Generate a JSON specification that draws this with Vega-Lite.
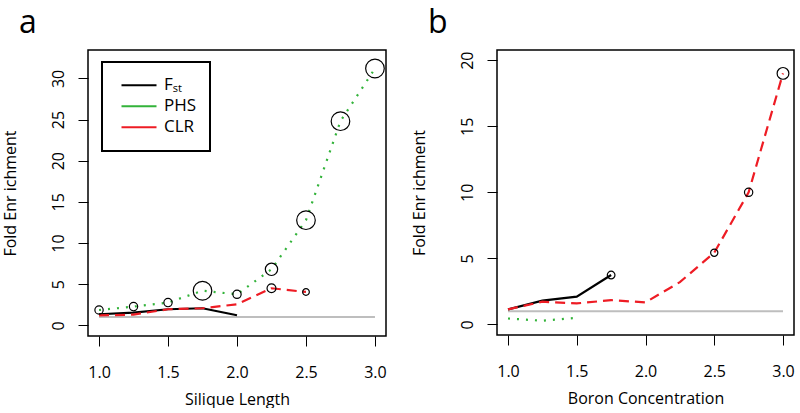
{
  "$schema": "https://vega.github.io/schema/vega-lite/v6.json",
  "background": "white",
  "padding": {"left": 1, "top": 6, "right": 0, "bottom": 0},
  "spacing": 22,
  "datasets": {
    "a": [
      {"series": "base", "x": 1.0, "y": 1.0},
      {"series": "base", "x": 3.0, "y": 1.0},
      {"series": "FST", "x": 1.0, "y": 1.34},
      {"series": "FST", "x": 1.25, "y": 1.55},
      {"series": "FST", "x": 1.5, "y": 1.95},
      {"series": "FST", "x": 1.75, "y": 2.07},
      {"series": "FST", "x": 2.0, "y": 1.22},
      {"series": "PHS", "x": 1.0, "y": 1.86, "sig": 0.2},
      {"series": "PHS", "x": 1.25, "y": 2.27, "sig": 0.2},
      {"series": "PHS", "x": 1.5, "y": 2.76, "sig": 0.2},
      {"series": "PHS", "x": 1.75, "y": 4.2, "sig": 1.0},
      {"series": "PHS", "x": 2.0, "y": 3.77, "sig": 0.2},
      {"series": "PHS", "x": 2.25, "y": 6.8, "sig": 0.44},
      {"series": "PHS", "x": 2.5, "y": 12.77, "sig": 1.0},
      {"series": "PHS", "x": 2.75, "y": 24.8, "sig": 1.0},
      {"series": "PHS", "x": 3.0, "y": 31.2, "sig": 1.0},
      {"series": "CLR", "x": 1.0, "y": 1.2},
      {"series": "CLR", "x": 1.25, "y": 1.3},
      {"series": "CLR", "x": 1.5, "y": 1.95},
      {"series": "CLR", "x": 1.75, "y": 2.07},
      {"series": "CLR", "x": 2.0, "y": 2.55},
      {"series": "CLR", "x": 2.25, "y": 4.5, "sig": 0.23},
      {"series": "CLR", "x": 2.5, "y": 4.05, "sig": 0.13}
    ],
    "b": [
      {"series": "base", "x": 1.0, "y": 1.0},
      {"series": "base", "x": 3.0, "y": 1.0},
      {"series": "FST", "x": 1.0, "y": 1.14},
      {"series": "FST", "x": 1.25, "y": 1.8},
      {"series": "FST", "x": 1.5, "y": 2.1},
      {"series": "FST", "x": 1.75, "y": 3.74, "sig": 0.17},
      {"series": "PHS", "x": 1.0, "y": 0.45},
      {"series": "PHS", "x": 1.25, "y": 0.28},
      {"series": "PHS", "x": 1.5, "y": 0.5},
      {"series": "CLR", "x": 1.0, "y": 1.14},
      {"series": "CLR", "x": 1.25, "y": 1.72},
      {"series": "CLR", "x": 1.5, "y": 1.59},
      {"series": "CLR", "x": 1.75, "y": 1.84},
      {"series": "CLR", "x": 2.0, "y": 1.67},
      {"series": "CLR", "x": 2.25, "y": 3.2},
      {"series": "CLR", "x": 2.5, "y": 5.43, "sig": 0.15},
      {"series": "CLR", "x": 2.75, "y": 10.0, "sig": 0.2},
      {"series": "CLR", "x": 3.0, "y": 19.0, "sig": 0.4}
    ]
  },
  "resolve": {"scale": {"color": "independent", "size": "independent"}, "legend": {"color": "independent", "size": "independent"}},
  "hconcat": [
    {
      "width": 298,
      "height": 286,
      "title": {"text": "a", "anchor": "start", "frame": "group", "dx": -69, "offset": -15, "baseline": "alphabetic", "fontSize": 32, "font": "Open Sans", "fontWeight": "normal", "color": "black"},
      "data": {"name": "a"},
      "layer": [
        {
          "transform": [{"filter": "datum.series == 'base'"}],
          "mark": {"type": "line", "color": "#bebebe", "strokeWidth": 2},
          "encoding": {
            "x": {"field": "x", "type": "quantitative", "scale": {"domain": [0.92, 3.08], "nice": false, "zero": false}, "axis": {"title": "Silique Length", "values": [1.0, 1.5, 2.0, 2.5, 3.0], "format": ".1f"}},
            "y": {"field": "y", "type": "quantitative", "scale": {"domain": [-1.3, 33.45], "nice": false, "zero": false}, "axis": {"title": "Fold Enr ichment", "values": [0, 5, 10, 15, 20, 25, 30]}}
          }
        },
        {
          "transform": [{"filter": "datum.series == 'FST'"}],
          "mark": {"type": "line", "strokeWidth": 2.2, "strokeCap": "butt"},
          "encoding": {
            "x": {"field": "x", "type": "quantitative"},
            "y": {"field": "y", "type": "quantitative"},
            "color": {"field": "series", "type": "nominal", "scale": {"domain": ["FST", "PHS", "CLR"], "range": ["#000000", "#33b33a", "#ee1c24"]},
              "legend": {"orient": "none", "legendX": 14, "legendY": 12, "title": null, "symbolType": "stroke", "symbolSize": 1225, "symbolStrokeWidth": 2.2, "symbolOffset": 5, "clipHeight": 20.5, "labelFontSize": 17, "labelFont": "Open Sans", "labelColor": "black", "padding": 13, "strokeColor": "black", "fillColor": "white", "rowPadding": 0, "labelOffset": 6, "labelExpr": "datum.label == 'FST' ? 'F\u209b\u209c\u00a0\u00a0' : datum.label + '\u00a0\u00a0'"}}
          }
        },
        {
          "transform": [{"filter": "datum.series == 'PHS'"}],
          "mark": {"type": "line", "strokeWidth": 2.2, "strokeCap": "butt", "strokeDash": [2, 7]},
          "encoding": {
            "x": {"field": "x", "type": "quantitative"},
            "y": {"field": "y", "type": "quantitative"},
            "color": {"field": "series", "type": "nominal"}
          }
        },
        {
          "transform": [{"filter": "datum.series == 'CLR'"}],
          "mark": {"type": "line", "strokeWidth": 2.2, "strokeCap": "butt", "strokeDash": [10, 6]},
          "encoding": {
            "x": {"field": "x", "type": "quantitative"},
            "y": {"field": "y", "type": "quantitative"},
            "color": {"field": "series", "type": "nominal"}
          }
        },
        {
          "transform": [{"filter": "datum.sig > 0"}],
          "mark": {"type": "point", "shape": "circle", "filled": false, "stroke": "black", "strokeWidth": 1.2, "opacity": 1},
          "encoding": {
            "x": {"field": "x", "type": "quantitative"},
            "y": {"field": "y", "type": "quantitative"},
            "size": {"field": "sig", "type": "quantitative", "scale": {"domain": [0, 1], "range": [0, 346]}, "legend": null}
          }
        }
      ]
    },
    {
      "width": 297,
      "height": 285,
      "title": {"text": "b", "anchor": "start", "frame": "group", "dx": -69, "offset": -15, "baseline": "alphabetic", "fontSize": 32, "font": "Open Sans", "fontWeight": "normal", "color": "black"},
      "data": {"name": "b"},
      "layer": [
        {
          "transform": [{"filter": "datum.series == 'base'"}],
          "mark": {"type": "line", "color": "#bebebe", "strokeWidth": 2},
          "encoding": {
            "x": {"field": "x", "type": "quantitative", "scale": {"domain": [0.92, 3.08], "nice": false, "zero": false}, "axis": {"title": "Boron Concentration", "values": [1.0, 1.5, 2.0, 2.5, 3.0], "format": ".1f"}},
            "y": {"field": "y", "type": "quantitative", "scale": {"domain": [-0.8, 20.77], "nice": false, "zero": false}, "axis": {"title": "Fold Enr ichment", "values": [0, 5, 10, 15, 20]}}
          }
        },
        {
          "transform": [{"filter": "datum.series == 'FST'"}],
          "mark": {"type": "line", "strokeWidth": 2.2, "strokeCap": "butt"},
          "encoding": {
            "x": {"field": "x", "type": "quantitative"},
            "y": {"field": "y", "type": "quantitative"},
            "color": {"field": "series", "type": "nominal", "scale": {"domain": ["FST", "PHS", "CLR"], "range": ["#000000", "#33b33a", "#ee1c24"]}, "legend": null}
          }
        },
        {
          "transform": [{"filter": "datum.series == 'PHS'"}],
          "mark": {"type": "line", "strokeWidth": 2.2, "strokeCap": "butt", "strokeDash": [2, 7]},
          "encoding": {
            "x": {"field": "x", "type": "quantitative"},
            "y": {"field": "y", "type": "quantitative"},
            "color": {"field": "series", "type": "nominal", "legend": null}
          }
        },
        {
          "transform": [{"filter": "datum.series == 'CLR'"}],
          "mark": {"type": "line", "strokeWidth": 2.2, "strokeCap": "butt", "strokeDash": [10, 6]},
          "encoding": {
            "x": {"field": "x", "type": "quantitative"},
            "y": {"field": "y", "type": "quantitative"},
            "color": {"field": "series", "type": "nominal", "legend": null}
          }
        },
        {
          "transform": [{"filter": "datum.sig > 0"}],
          "mark": {"type": "point", "shape": "circle", "filled": false, "stroke": "black", "strokeWidth": 1.2, "opacity": 1},
          "encoding": {
            "x": {"field": "x", "type": "quantitative"},
            "y": {"field": "y", "type": "quantitative"},
            "size": {"field": "sig", "type": "quantitative", "scale": {"domain": [0, 1], "range": [0, 346]}, "legend": null}
          }
        }
      ]
    }
  ],
  "config": {
    "font": "Open Sans",
    "view": {"stroke": "black", "strokeWidth": 1.5},
    "axis": {"domain": false, "grid": false, "ticks": true, "tickColor": "black", "tickSize": 10, "tickWidth": 1, "labelFont": "Open Sans", "labelFontSize": 16, "labelColor": "black", "titleFont": "Open Sans", "titleFontSize": 16, "titleFontWeight": "normal", "titleColor": "black"},
    "axisX": {"labelPadding": 18, "titlePadding": 11, "labelFlush": false},
    "axisY": {"labelAngle": -90, "labelAlign": "center", "labelBaseline": "alphabetic", "labelPadding": 15, "titlePadding": 32, "labelFlush": false},
    "legend": {"strokeWidth": 2}
  }
}
